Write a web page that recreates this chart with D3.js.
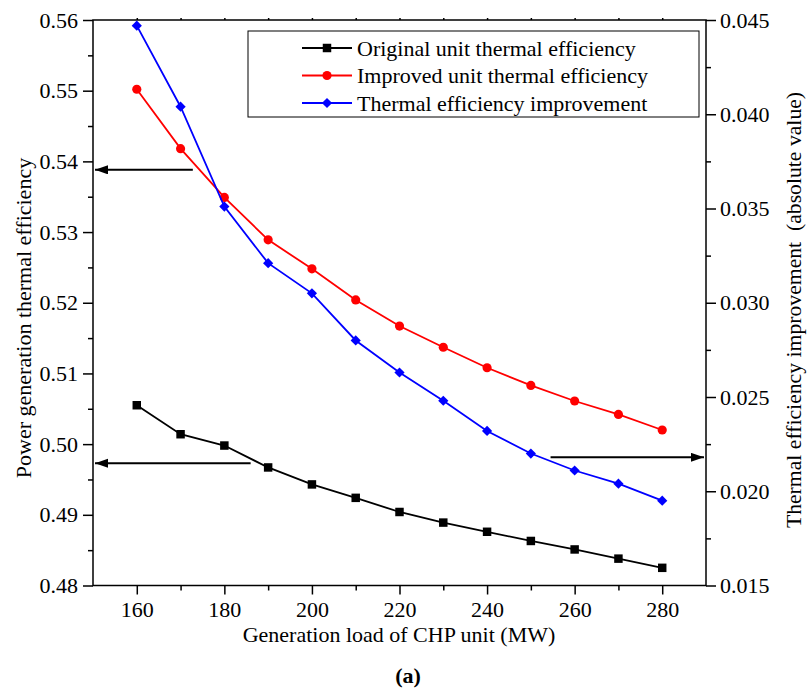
<!DOCTYPE html>
<html>
<head>
<meta charset="utf-8">
<script src="https://cdn.jsdelivr.net/npm/d3@7"></script>
<style>
body { margin: 0; background: #fff; }
text { font-family: "Liberation Serif", "Times New Roman", "DejaVu Serif", serif; fill: #000; }
</style>
</head>
<body>
<svg id="chart" width="809" height="697"></svg>
<script>
// load of the CHP unit (MW)
const loads = [160, 170, 180, 190, 200, 210, 220, 230, 240, 250, 260, 270, 280];
// left axis
const original = [0.5055, 0.5014, 0.4998, 0.4967, 0.4943, 0.4924, 0.4904, 0.4889, 0.4876, 0.4863, 0.4851, 0.4838, 0.4825];
const improved = [0.5502, 0.5418, 0.5349, 0.5289, 0.5248, 0.5204, 0.5167, 0.5137, 0.5108, 0.5083, 0.5061, 0.5042, 0.5020];
// right axis
const improvement = [0.0447, 0.0404, 0.0351, 0.0321, 0.0305, 0.0280, 0.0263, 0.0248, 0.0232, 0.0220, 0.0211, 0.0204, 0.0195];

const xMajor = [160, 180, 200, 220, 240, 260, 280];
const xMinor = [170, 190, 210, 230, 250, 270];
const leftMajor = [0.48, 0.49, 0.50, 0.51, 0.52, 0.53, 0.54, 0.55, 0.56];
const rightMajor = [0.015, 0.020, 0.025, 0.030, 0.035, 0.040, 0.045];
const seriesNames = ["Original unit thermal efficiency", "Improved unit thermal efficiency", "Thermal efficiency improvement"];

// arrows pointing at the axis each curve belongs to (data units)
const arrows = [
  {axis: "left", y: 0.5388, from: 172.8, to: 150},
  {axis: "left", y: 0.4973, from: 186.0, to: 150},
  {axis: "right", y: 0.0218, from: 254.5, to: 290}
];

const svg = d3.select("#chart");
const plotL = 93, plotR = 706, plotT = 20, plotB = 585.5;

const x = d3.scaleLinear().domain([150, 290]).range([plotL, plotR]);
const yL = d3.scaleLinear().domain([0.48, 0.56]).range([plotB, plotT]);
const yR = d3.scaleLinear().domain([0.015, 0.045]).range([plotB, plotT]);

function styleAxis(g) {
  g.attr("font-family", null);
  g.selectAll("path").remove();
  g.selectAll("line").attr("stroke", "#000").attr("stroke-width", 1.5);
  g.selectAll("text").attr("font-size", 22);
}

// bottom
svg.append("g").attr("transform", `translate(0,${plotB})`)
  .call(d3.axisBottom(x).tickValues(xMajor).tickSize(9).tickPadding(7).tickFormat(d3.format("d")))
  .call(styleAxis);
svg.append("g").attr("transform", `translate(0,${plotB})`)
  .call(d3.axisBottom(x).tickValues(xMinor).tickSize(5).tickFormat(""))
  .call(styleAxis);
// top (ticks only)
svg.append("g").attr("transform", `translate(0,${plotT})`)
  .call(d3.axisTop(x).tickValues(xMajor.concat(xMinor)).tickSize(2).tickFormat(""))
  .call(styleAxis);
// left
svg.append("g").attr("transform", `translate(${plotL},0)`)
  .call(d3.axisLeft(yL).tickValues(leftMajor).tickSize(10).tickPadding(5).tickFormat(d3.format(".2f")))
  .call(styleAxis);
svg.append("g").attr("transform", `translate(${plotL},0)`)
  .call(d3.axisLeft(yL).tickValues(d3.range(0.485, 0.56, 0.01)).tickSize(5).tickFormat(""))
  .call(styleAxis);
// right
svg.append("g").attr("transform", `translate(${plotR},0)`)
  .call(d3.axisRight(yR).tickValues(rightMajor).tickSize(10).tickPadding(4).tickFormat(d3.format(".3f")))
  .call(styleAxis);
svg.append("g").attr("transform", `translate(${plotR},0)`)
  .call(d3.axisRight(yR).tickValues(d3.range(0.0175, 0.045, 0.005)).tickSize(5).tickFormat(""))
  .call(styleAxis);

// frame
svg.append("rect")
  .attr("x", plotL).attr("y", plotT)
  .attr("width", plotR - plotL).attr("height", plotB - plotT)
  .attr("fill", "none").attr("stroke", "#000").attr("stroke-width", 1.5);

// axis titles
svg.append("text")
  .attr("transform", `translate(31,318) rotate(-90)`)
  .attr("text-anchor", "middle").attr("font-size", 22)
  .text("Power generation thermal efficiency");
svg.append("text")
  .attr("transform", `translate(801,310) rotate(-90)`)
  .attr("text-anchor", "middle").attr("font-size", 21.7)
  .style("white-space", "pre")
  .text("Thermal efficiency improvement  (absolute value)");
svg.append("text")
  .attr("x", 399).attr("y", 642)
  .attr("text-anchor", "middle").attr("font-size", 22)
  .text("Generation load of CHP unit (MW)");
svg.append("text")
  .attr("x", 408).attr("y", 683)
  .attr("text-anchor", "middle").attr("font-size", 22).attr("font-weight", "bold")
  .text("(a)");

// series
const series = [
  {name: seriesNames[0], values: original, y: yL, color: "#000000", symbol: d3.symbolSquare, size: 72, rot: 0},
  {name: seriesNames[1], values: improved, y: yL, color: "#ff0000", symbol: d3.symbolCircle, size: 66, rot: 0},
  {name: seriesNames[2], values: improvement, y: yR, color: "#0000ff", symbol: d3.symbolSquare, size: 52, rot: 45}
];

series.forEach(s => {
  const line = d3.line().x((d, i) => x(loads[i])).y(d => s.y(d));
  svg.append("path")
    .attr("d", line(s.values))
    .attr("fill", "none").attr("stroke", s.color).attr("stroke-width", 1.8);
  svg.append("g").selectAll("path").data(s.values).enter()
    .append("path")
    .attr("d", d3.symbol().type(s.symbol).size(s.size))
    .attr("transform", (d, i) => `translate(${x(loads[i])},${s.y(d)}) rotate(${s.rot})`)
    .attr("fill", s.color);
});

// arrows
svg.append("defs").append("marker")
  .attr("id", "head").attr("markerUnits", "userSpaceOnUse")
  .attr("markerWidth", 14).attr("markerHeight", 10)
  .attr("refX", 13).attr("refY", 4.5).attr("orient", "auto")
  .append("path").attr("d", "M0,0 L13,4.5 L0,9 Z").attr("fill", "#000");

arrows.forEach(a => {
  const sc = a.axis === "left" ? yL : yR;
  const tipX = a.axis === "left" ? x(a.to) + 2 : x(a.to) - 2;
  svg.append("line")
    .attr("x1", x(a.from)).attr("x2", tipX)
    .attr("y1", sc(a.y)).attr("y2", sc(a.y))
    .attr("stroke", "#000").attr("stroke-width", 2)
    .attr("marker-end", "url(#head)");
});

// legend
const lg = svg.append("g");
lg.append("rect")
  .attr("x", 248).attr("y", 31).attr("width", 451).attr("height", 86)
  .attr("fill", "#fff").attr("stroke", "#000").attr("stroke-width", 1);
series.forEach((s, i) => {
  const yy = 48 + i * 27.5;
  lg.append("line").attr("x1", 302).attr("x2", 352).attr("y1", yy).attr("y2", yy)
    .attr("stroke", s.color).attr("stroke-width", 1.8);
  lg.append("path")
    .attr("d", d3.symbol().type(s.symbol).size(s.size))
    .attr("transform", `translate(327,${yy}) rotate(${s.rot})`)
    .attr("fill", s.color);
  lg.append("text").attr("x", 357).attr("y", yy).attr("dy", "0.35em")
    .attr("font-size", 22).text(s.name);
});
</script>
</body>
</html>
